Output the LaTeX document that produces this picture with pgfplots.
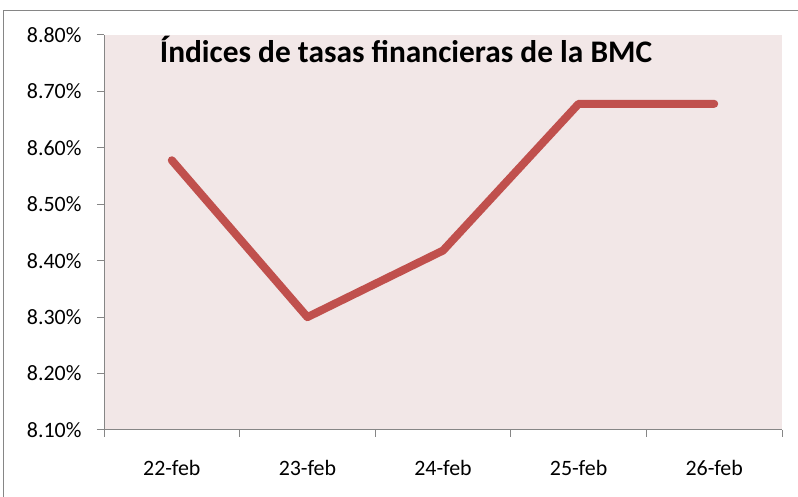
\documentclass[border=0pt]{standalone}
\usepackage{pgfplots}
\pgfplotsset{compat=1.18}
\usepackage{fontspec}
\setmainfont{Carlito}
\definecolor{bgpink}{HTML}{F2E7E7}
\definecolor{linered}{HTML}{C0504D}
\definecolor{axgray}{HTML}{868686}
\begin{document}
\begin{tikzpicture}[x=1bp,y=1bp]
\useasboundingbox (0,0) rectangle (798,497);
\begin{scope}
\clip (0,0) rectangle (798,497);
\draw[axgray, line width=1.2bp] (3.5,-10) -- (3.5,486.5) -- (810,486.5);
\end{scope}
\begin{axis}[
  at={(104bp,67bp)}, anchor=south west,
  scale only axis, width=678bp, height=395bp,
  xmin=0, xmax=5, ymin=8.1, ymax=8.8,
  axis background/.style={fill=bgpink},
  axis x line*=bottom, axis y line*=left,
  axis line style={axgray, line width=1bp, -},
  xtick={0,1,2,3,4,5}, xticklabels={},
  ytick={8.1,8.2,8.3,8.4,8.5,8.6,8.7,8.8},
  yticklabels={8.10\%,8.20\%,8.30\%,8.40\%,8.50\%,8.60\%,8.70\%,8.80\%},
  tick style={axgray, line width=1bp},
  major tick length=7bp,
  tick align=outside,
  tick label style={font=\fontsize{22}{26}\selectfont, text=black},
  yticklabel style={xshift=-12bp},
  /pgf/number format/assume math mode=true,
  clip=false,
]
\addplot[linered, line width=8bp, line cap=round, line join=round] coordinates {
  (0.5,8.578) (1.5,8.30) (2.5,8.418) (3.5,8.678) (4.5,8.678)
};
\node[font=\fontsize{22}{26}\selectfont, yshift=-38bp] at (axis cs:0.5,8.1) {22-feb};
\node[font=\fontsize{22}{26}\selectfont, yshift=-38bp] at (axis cs:1.5,8.1) {23-feb};
\node[font=\fontsize{22}{26}\selectfont, yshift=-38bp] at (axis cs:2.5,8.1) {24-feb};
\node[font=\fontsize{22}{26}\selectfont, yshift=-38bp] at (axis cs:3.5,8.1) {25-feb};
\node[font=\fontsize{22}{26}\selectfont, yshift=-38bp] at (axis cs:4.5,8.1) {26-feb};
\node[font=\fontsize{31.5}{36}\selectfont\bfseries, anchor=center] at (axis cs:2.227,8.775) {Índices de tasas financieras de la BMC};
\end{axis}
\end{tikzpicture}
\end{document}
